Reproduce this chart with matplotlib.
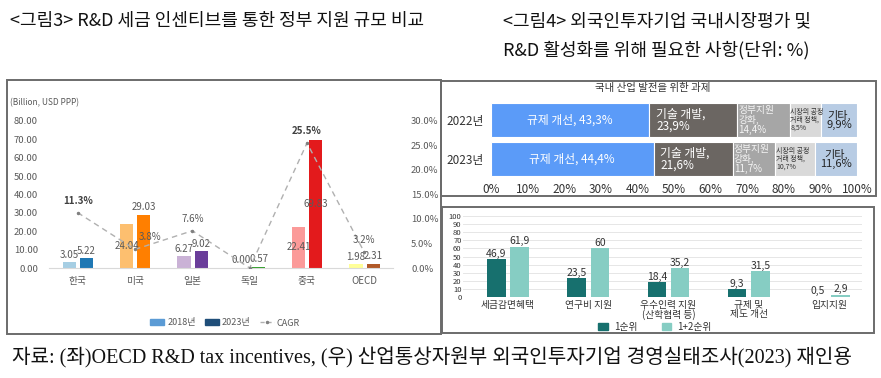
import matplotlib
matplotlib.use("Agg")
import matplotlib.pyplot as plt
from matplotlib.patches import Rectangle, Patch
from matplotlib.lines import Line2D
import numpy as np

plt.rcParams['font.family'] = ['Noto Sans CJK KR', 'DejaVu Sans']

# --- left: R&D tax incentive support (Billion, USD PPP) ---
countries = ['한국', '미국', '일본', '독일', '중국', 'OECD']
support_2018 = [3.05, 24.04, 6.27, 0.00, 22.41, 1.98]
support_2023 = [5.22, 29.03, 9.02, 0.57, 69.83, 2.31]
cagr = [11.3, 3.8, 7.6, 0.0, 25.5, 3.2]

# --- right top: 국내 산업 발전을 위한 과제 (%) ---
years = ['2022년', '2023년']
task_2022 = [43.3, 23.9, 14.4, 8.5, 9.9]
task_2023 = [44.4, 21.6, 11.7, 10.7, 11.6]
task_labels = ['규제 개선, {}%', '기술 개발,\n{}%', '정부지원\n강화,\n{}%',
               '시장의 공정\n거래 정책,\n{}%', '기타,\n{}%']

# --- right bottom: R&D 활성화를 위해 필요한 사항 (%) ---
needs = ['세금감면혜택', '연구비 지원', '우수인력 지원\n(산학협력 등)', '규제 및\n제도 개선', '입지지원']
rank1 = [46.9, 23.5, 18.4, 9.3, 0.5]
rank12 = [61.9, 60, 35.2, 31.5, 2.9]

W, H = 881, 378
fig = plt.figure(figsize=(W / 100, H / 100), dpi=100)


def px_axes(x0, y0, x1, y1):
    return fig.add_axes([x0 / W, 1 - y1 / H, (x1 - x0) / W, (y1 - y0) / H])


def px_text(x, y, s, **kw):
    return fig.text(x / W, 1 - y / H, s, **kw)


def px_box(x0, y0, x1, y1, **kw):
    fig.add_artist(Rectangle((x0 / W, 1 - y1 / H), (x1 - x0) / W, (y1 - y0) / H,
                             transform=fig.transFigure, fill=False, **kw))


# headers and source
hdr = dict(fontsize=13, va='center', color='#111111', weight='medium')
px_text(10, 21, '<그림3> R&D 세금 인센티브를 통한 정부 지원 규모 비교', **hdr)
px_text(503, 21, '<그림4> 외국인투자기업 국내시장평가 및', **hdr)
px_text(503, 50, 'R&D 활성화를 위해 필요한 사항(단위: %)', **hdr)
px_text(12, 358, '자료: (좌)OECD R&D tax incentives, (우) 산업통상자원부 외국인투자기업 경영실태조사(2023) 재인용',
        fontsize=14.5, va='center', color='#111111',
        family=['Liberation Serif', 'Noto Sans CJK KR'])

px_box(7, 80, 441, 334, ec='#6b6b6b', lw=1.4)
px_box(441, 81, 876, 196, ec='#6b6b6b', lw=1.4)
px_box(442, 207, 874, 333, ec='#6b6b6b', lw=1.4)

# ---------------- left chart ----------------
c18 = ['#a6cee3', '#fdbf6f', '#cab2d6', '#b2df8a', '#fb9a99', '#ffff99']
c23 = ['#1f78b4', '#ff7f00', '#6a3d9a', '#33a02c', '#e31a1c', '#b15928']
gray = '#595959'

px_text(10, 103, '(Billion, USD PPP)', fontsize=6, va='center', color=gray)

ax = px_axes(49, 121, 393, 268)
x = np.arange(len(countries))
w = 0.23
b18 = ax.bar(x - 0.145, support_2018, w, color=c18)
b23 = ax.bar(x + 0.155, support_2023, w, color=c23)
ax.set_xlim(-0.5, 5.5)
ax.set_ylim(0, 80)
ax.set_yticks(np.arange(0, 81, 10))
ax.set_yticklabels([f'{v:.2f}' for v in np.arange(0, 81, 10)])
ax.set_xticks(x)
ax.set_xticklabels(countries)
ax.tick_params(axis='y', length=0, pad=8, labelsize=6.8, labelcolor=gray)
ax.tick_params(axis='x', length=0, pad=6, labelsize=7, labelcolor=gray)
for s in ['top', 'right', 'left']:
    ax.spines[s].set_visible(False)
ax.spines['bottom'].set_color('#d9d9d9')

inside = {1: [True, False], 4: [True, True]}
for i in range(len(countries)):
    for k, (bars, vals) in enumerate([(b18, support_2018), (b23, support_2023)]):
        v = vals[i]
        bx = bars[i].get_x() + bars[i].get_width() / 2
        if inside.get(i, [False, False])[k]:
            ax.text(bx, v / 2, f'{v:.2f}', ha='center', va='center', fontsize=7, color=gray)
        else:
            ax.annotate(f'{v:.2f}', (bx, v), xytext=(0, 2), textcoords='offset points',
                        ha='center', va='bottom', fontsize=7, color=gray)

ax2 = ax.twinx()
ax2.plot(x, cagr, color='#b0b0b0', ls=(0, (4, 3)), lw=1, marker='.', ms=3,
         mfc='#808080', mec='#808080')
ax2.set_ylim(0, 30)
ax2.set_yticks(np.arange(0, 31, 5))
ax2.set_yticklabels([f'{v:.1f}%' for v in np.arange(0, 31, 5)])
ax2.tick_params(axis='y', length=0, pad=13, labelsize=6.8, labelcolor=gray)
for s in ['top', 'right', 'left', 'bottom']:
    ax2.spines[s].set_visible(False)
cagr_offsets = [(0, 5), (11, 5), (0, 5), None, (0, 5), (0, 5)]
for i, v in enumerate(cagr):
    if support_2018[i] == 0:
        continue
    bold = v > 10
    ax2.annotate(f'{v:.1f}%', (x[i], v), xytext=cagr_offsets[i], textcoords='offset points',
                 ha='center', va='bottom', fontsize=7, color='#404040' if bold else gray,
                 weight='bold' if bold else 'normal')

leg = [Patch(color='#5b9bd5', label='2018년'), Patch(color='#1f4e79', label='2023년'),
       Line2D([], [], color='#b0b0b0', ls=(0, (3, 2)), lw=1, marker='.', ms=3,
              mfc='#808080', mec='#808080', label='CAGR')]
fig.legend(handles=leg, loc='center', bbox_to_anchor=(225 / W, 1 - 323 / H), ncol=3,
           frameon=False, fontsize=6.5, labelcolor=gray, handlelength=1.6, handleheight=0.6,
           columnspacing=1.0, handletextpad=0.3)

# ---------------- right top ----------------
seg_colors = ['#5b9bf8', '#6b6662', '#a6a6a6', '#d9d9d9', '#b8cce4']
seg_text = ['white', 'white', '#f5f5f5', '#333333', '#222222']
seg_size = [8.5, 8.5, 7, 5, 8]
seg_ha = ['center', 'left', 'left', 'left', 'center']
seg_pad = [0, 1.8, 0.3, 0.2, 0]

axt = px_axes(491, 99, 857, 180)
rows = [task_2022, task_2023]
for r, vals in enumerate(rows):
    left = 0
    for j, v in enumerate(vals):
        axt.barh(r, v, left=left, height=0.87, color=seg_colors[j], edgecolor='white', lw=0.8)
        tx = left + v / 2 if seg_ha[j] == 'center' else left + seg_pad[j]
        axt.text(tx, r, task_labels[j].format(f'{v:.1f}'.replace('.', ',')), ha=seg_ha[j],
                 va='center', fontsize=seg_size[j], color=seg_text[j], linespacing=0.95)
        left += v
axt.set_xlim(0, 100)
axt.set_ylim(1.54, -0.54)
axt.set_yticks([0, 1])
axt.set_yticklabels(years)
axt.set_xticks(np.arange(0, 101, 10))
axt.set_xticklabels([f'{v}%' for v in range(0, 101, 10)])
axt.tick_params(length=0, labelsize=8.5, labelcolor='#333333')
axt.tick_params(axis='x', pad=2)
axt.tick_params(axis='y', pad=5)
for s in axt.spines.values():
    s.set_visible(False)
px_text(653, 88, '국내 산업 발전을 위한 과제', fontsize=7.5, ha='center', va='center', color='#333333')

# ---------------- right bottom ----------------
axb = px_axes(463, 216, 862, 297)
xb = np.arange(len(needs))
p1 = axb.bar(xb - 0.145, rank1, 0.23, color='#17706e', zorder=3)
p2 = axb.bar(xb + 0.145, rank12, 0.23, color='#86cdc3', zorder=3)
for bars, vals in [(p1, rank1), (p2, rank12)]:
    for b, v in zip(bars, vals):
        axb.annotate(f'{v:g}'.replace('.', ','), (b.get_x() + b.get_width() / 2, v),
                     xytext=(0, 0.3), textcoords='offset points', ha='center', va='bottom',
                     fontsize=7.5, color='#333333')
axb.set_xlim(-0.56, 4.41)
axb.set_ylim(0, 100)
axb.set_yticks(np.arange(0, 101, 10))
axb.yaxis.grid(True, color='#e6e6e6', lw=0.7, zorder=0)
axb.set_xticks(xb)
axb.set_xticklabels(needs, linespacing=0.95)
axb.tick_params(axis='y', length=0, pad=1, labelsize=5.5, labelcolor='#333333')
axb.tick_params(axis='x', length=0, pad=2, labelsize=7, labelcolor='#333333')
for s in axb.spines.values():
    s.set_visible(False)
leg2 = [Patch(color='#17706e', label='1순위'), Patch(color='#86cdc3', label='1+2순위')]
fig.legend(handles=leg2, loc='center', bbox_to_anchor=(655 / W, 1 - 327 / H), ncol=2,
           frameon=False, fontsize=7, labelcolor='#333333', handlelength=1.0, handleheight=0.8,
           columnspacing=2.5, handletextpad=0.6)

fig.savefig('out.png', dpi=100)
